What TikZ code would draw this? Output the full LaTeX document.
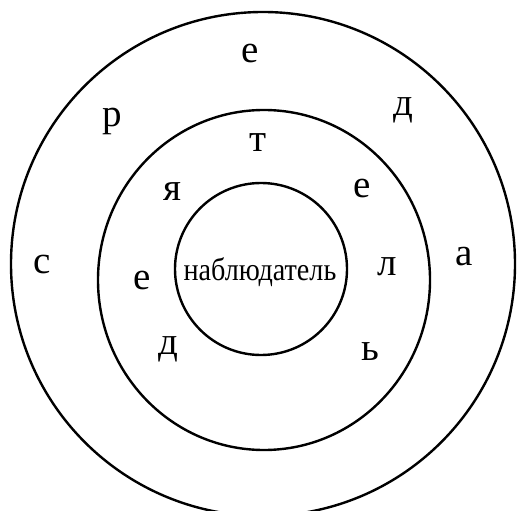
\documentclass[tikz,border=0pt]{standalone}
\usepackage{fontspec}
\setmainfont{Liberation Serif}
\newfontfamily\ringfont{Liberation Serif}
\newfontfamily\obsfont[FakeStretch=0.88]{Liberation Serif}
\tikzset{
  ring/.style={draw=black, line width=2.4pt},
  outl/.style={anchor=base, inner sep=0pt, font=\ringfont\fontsize{39}{44}\selectfont},
  midl/.style={anchor=base, inner sep=0pt, font=\ringfont\fontsize{39}{44}\selectfont},
  obs/.style={anchor=base, inner sep=0pt, font=\obsfont\fontsize{32}{36}\selectfont},
}
\begin{document}
\begin{tikzpicture}[x=1pt, y=-1pt]
  \useasboundingbox (0,0) rectangle (518,510);
  % rings
  \draw[ring] (263,264) circle (252pt);
  \draw[ring] (264,280) ellipse (166pt and 170pt);
  \draw[ring] (261,269) circle (86pt);
  % observer
  \node[obs] (obs) at (260,280) {наблюдатель};
  % outer ring: среда
  \node[outl] (s1) at (42,273) {с};
  \node[outl] (s2) at (112,127) {р};
  \node[outl] (s3) at (250,63) {е};
  \node[outl] (s4) at (403,116) {д};
  \node[outl] (s5) at (464,265) {а};
  % middle ring: деятель
  \node[midl] (d1) at (168,354) {д};
  \node[midl] (d2) at (142,289) {е};
  \node[midl] (d3) at (172,201) {я};
  \node[midl] (d4) at (258,152) {т};
  \node[midl] (d5) at (362,198) {е};
  \node[midl] (d6) at (387,275) {л};
  \node[midl] (d7) at (370,360) {ь};
\end{tikzpicture}
\end{document}
